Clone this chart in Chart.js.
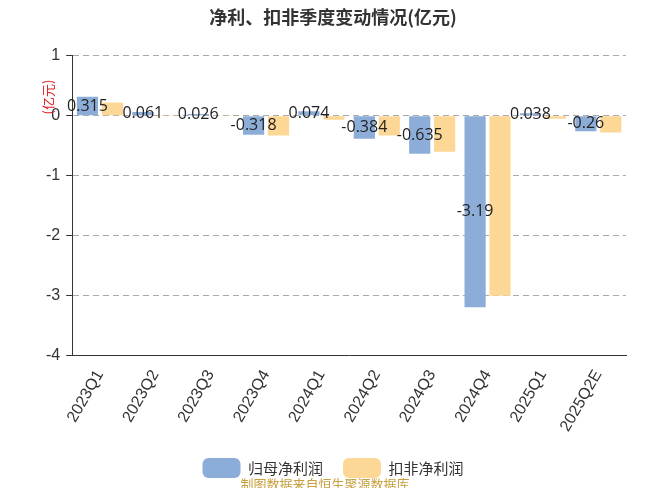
<!DOCTYPE html><html><head><script src="https://cdn.jsdelivr.net/npm/chart.js@4/dist/chart.umd.min.js"></script>
<style>body{margin:0;background:#fff}</style></head><body><canvas id="c" width="650" height="488"></canvas>
<script>
const categories=['2023Q1','2023Q2','2023Q3','2023Q4','2024Q1','2024Q2','2024Q3','2024Q4','2025Q1','2025Q2E'];
const netProfit=[0.315,0.061,0.026,-0.318,0.074,-0.384,-0.635,-3.19,0.038,-0.26];
const deductedProfit=[0.22,0.01,0.01,-0.33,-0.07,-0.33,-0.6,-3.0,-0.05,-0.28];
const yTicks=[1,0,-1,-2,-3,-4];
const labelPlugin={id:'lbl',afterDatasetsDraw(ch){const ctx=ch.ctx;const m=ch.getDatasetMeta(0);ctx.save();ctx.font='16px "Open Sans", sans-serif';ctx.fillStyle='#222';ctx.textAlign='center';ctx.textBaseline='middle';
m.data.forEach((b,i)=>{const y=(b.y+b.base)/2;ctx.fillText(String(netProfit[i]),b.x,y);});ctx.restore();}};
const titlePlugin={id:'extra',afterDraw(ch){const ctx=ch.ctx;ctx.save();ctx.fillStyle='#c8a040';ctx.font='13px "Noto Sans CJK SC"';ctx.textAlign='center';ctx.fillText('制图数据来自恒生聚源数据库',325,484);
ctx.translate(48,97);ctx.rotate(-Math.PI/2);ctx.fillStyle='#e02020';ctx.font='13px "Noto Sans CJK SC"';ctx.textAlign='center';ctx.textBaseline='middle';ctx.fillText('(亿元)',0,0);ctx.restore();}};
new Chart(document.getElementById('c'),{type:'bar',data:{labels:categories,datasets:[
{label:'归母净利润',data:netProfit,backgroundColor:'#8dadd9',barPercentage:0.85,categoryPercentage:0.9},
{label:'扣非净利润',data:deductedProfit,backgroundColor:'#fdd795',barPercentage:0.85,categoryPercentage:0.9}]},
options:{responsive:false,animation:false,devicePixelRatio:1,layout:{padding:{left:40,right:24,bottom:0,top:0}},
plugins:{title:{display:true,text:'净利、扣非季度变动情况(亿元)',font:{size:18,weight:'bold',family:'"Noto Sans CJK SC"'},color:'#333',padding:{top:6,bottom:28}},
legend:{position:'bottom',labels:{font:{size:15,family:'"Noto Sans CJK SC"'},color:'#333',boxWidth:38,boxHeight:20,useBorderRadius:true,borderRadius:6,padding:20}},tooltip:{enabled:false}},
scales:{y:{min:-4,max:1,afterBuildTicks(a){a.ticks=yTicks.map(v=>({value:v}));},ticks:{font:{size:16},color:'#333',padding:6},grid:{color:'#aaa',drawTicks:true,tickLength:6,tickColor:'#333'},border:{display:true,color:'#333',dash:[6,4]}},
x:{ticks:{font:{size:16},color:'#333',maxRotation:60,minRotation:60},grid:{display:false},border:{color:'#333'}}}},
plugins:[labelPlugin,titlePlugin]});
</script></body></html>
